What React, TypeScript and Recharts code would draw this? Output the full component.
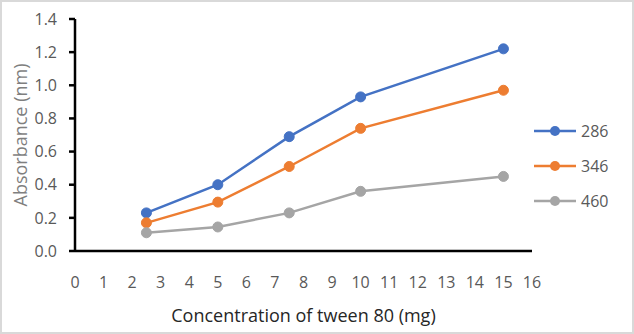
import { LineChart, Line, XAxis, YAxis, Legend, Label } from "recharts";

const concentrations = [2.5, 5, 7.5, 10, 15];
const abs286 = [0.23, 0.4, 0.69, 0.93, 1.22];
const abs346 = [0.17, 0.295, 0.51, 0.74, 0.97];
const abs460 = [0.11, 0.145, 0.23, 0.36, 0.45];
const xTicks = [0, 1, 2, 3, 4, 5, 6, 7, 8, 9, 10, 11, 12, 13, 14, 15, 16];
const yTicks = [0, 0.2, 0.4, 0.6, 0.8, 1.0, 1.2, 1.4];

const series = [
  { key: "286", values: abs286, color: "#4472C4" },
  { key: "346", values: abs346, color: "#ED7D31" },
  { key: "460", values: abs460, color: "#A5A5A5" },
];

const data = concentrations.map((c, i) => {
  const row: Record<string, number> = { conc: c };
  series.forEach((s) => (row[s.key] = s.values[i]));
  return row;
});

const font = "'Open Sans', sans-serif";

function LegendBox({ payload }: any) {
  return (
    <div style={{ fontFamily: font }}>
      {(payload || []).map((p: any) => (
        <div
          key={p.value}
          style={{ display: "flex", alignItems: "center", height: 35 }}
        >
          <svg width={44} height={12}>
            <line x1={0} y1={6} x2={42} y2={6} stroke={p.color} strokeWidth={2.5} />
            <circle cx={21} cy={6} r={5} fill={p.color} />
          </svg>
          <span style={{ fontSize: 16, color: "#595959", marginLeft: 3 }}>
            {p.value}
          </span>
        </div>
      ))}
    </div>
  );
}

export default function App() {
  return (
    <div
      style={{
        position: "absolute",
        left: 0,
        top: 0,
        width: 634,
        height: 334,
        background: "#fff",
      }}
    >
      <div
        style={{
          position: "absolute",
          left: 0,
          top: 0,
          width: 630,
          height: 330,
          border: "2px solid #d9d9d9",
          pointerEvents: "none",
        }}
      />
      <LineChart
        width={634}
        height={334}
        data={data}
        margin={{ top: 19, right: 102, left: 0, bottom: 0 }}
        style={{ fontFamily: font }}
      >
        <XAxis
          dataKey="conc"
          type="number"
          domain={[0, 16]}
          ticks={xTicks}
          interval={0}
          height={83}
          tickSize={0}
          tickMargin={26}
          tickLine={false}
          axisLine={{ stroke: "#000", strokeWidth: 2.5 }}
          tick={{ fill: "#595959", fontSize: 16 }}
        >
          <Label
            value="Concentration of tween 80 (mg)"
            position="insideBottom"
            offset={12}
            style={{ fill: "#262626", fontSize: 18 }}
          />
        </XAxis>
        <YAxis
          type="number"
          domain={[0, 1.4]}
          ticks={yTicks}
          interval={0}
          width={75}
          tickSize={6}
          tickMargin={12}
          tickFormatter={(v: number) => v.toFixed(1)}
          tickLine={{ stroke: "#000", strokeWidth: 2.5 }}
          axisLine={{ stroke: "#000", strokeWidth: 2.5 }}
          tick={{ fill: "#595959", fontSize: 16 }}
        >
          <Label
            value="Absorbance (nm)"
            angle={-90}
            position="insideLeft"
            offset={21}
            style={{ fill: "#7f7f7f", fontSize: 18, textAnchor: "middle" }}
          />
        </YAxis>
        <Legend
          layout="vertical"
          align="center"
          verticalAlign="middle"
          content={<LegendBox />}
          wrapperStyle={{ left: 534, top: 113, width: 90 }}
        />
        {series.map((s) => (
          <Line
            key={s.key}
            dataKey={s.key}
            name={s.key}
            type="linear"
            stroke={s.color}
            strokeWidth={2.5}
            dot={{ r: 5, fill: s.color, stroke: s.color, strokeWidth: 1 }}
            activeDot={false}
            isAnimationActive={false}
          />
        ))}
      </LineChart>
    </div>
  );
}
